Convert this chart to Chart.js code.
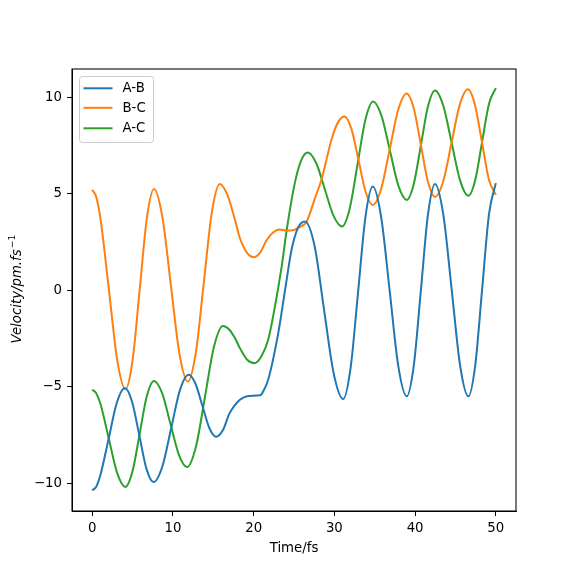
<!DOCTYPE html>
<html lang="en">
<head>
  <meta charset="UTF-8">
  <title>Velocity vs Time</title>
  <script src="https://cdn.jsdelivr.net/npm/chart.js"></script>
  <style>
    body {
      margin: 0;
      background: #ffffff;
    }
    canvas {
      display: block;
    }
  </style>
</head>
<body>
  <canvas id="velChart" width="573" height="574"></canvas>

  <script>
    // values (time in fs, velocity in pm/fs)
    const abTime = [0, 0.5, 1.01, 2.03, 3.04, 4.05, 4.94, 5.83, 6.71, 7.6, 8.69, 9.78, 10.86, 11.95, 12.8, 13.65, 14.5, 15.35, 16.2, 17.0, 18.3, 19.5, 20.8, 21.3, 21.8, 23.05, 23.9, 24.7, 25.5, 26.35, 27.55, 28.73, 29.91, 31.1, 32.01, 32.93, 33.84, 34.75, 35.8, 36.86, 37.91, 38.96, 39.84, 40.72, 41.59, 42.47, 43.5, 44.54, 45.57, 46.6, 47.45, 48.3, 49.15, 50];
    const abVel  = [-10.38, -10.19, -9.6, -7.72, -5.85, -5.07, -5.78, -7.51, -9.24, -9.95, -9.14, -7.17, -5.19, -4.38, -4.85, -5.99, -7.13, -7.6, -7.25, -6.4, -5.68, -5.48, -5.45, -5.15, -4.64, -2.22, 0.03, 2.1, 3.25, 3.57, 2.3, -1.03, -4.3, -5.64, -4.03, -0.13, 3.77, 5.38, 3.79, -0.06, -3.91, -5.5, -3.89, 0.01, 3.91, 5.52, 3.91, 0.01, -3.89, -5.5, -3.89, 0.03, 3.94, 5.56];

    const bcTime = [0, 0.5, 1.03, 2.07, 3.1, 4.13, 5.01, 5.89, 6.77, 7.65, 8.7, 9.75, 10.8, 11.85, 12.84, 13.83, 14.81, 15.8, 16.8, 17.68, 18.3, 19.0, 19.5, 20.05, 20.8, 21.6, 22.4, 23.2, 24.1, 24.9, 25.8, 26.57, 27.6, 28.4, 29.7, 30.5, 31.25, 32.13, 33.0, 33.88, 34.75, 35.8, 36.86, 37.91, 38.96, 39.84, 40.72, 41.59, 42.47, 43.49, 44.51, 45.53, 46.55, 47.41, 48.28, 49.14, 50];
    const bcVel  = [5.21, 4.84, 3.7, 0.04, -3.62, -5.13, -3.61, 0.06, 3.73, 5.25, 3.79, 0.26, -3.27, -4.73, -3.23, 0.4, 4.02, 5.52, 4.9, 3.66, 2.7, 2.05, 1.8, 1.72, 1.95, 2.6, 3.0, 3.15, 3.1, 3.12, 3.3, 3.57, 4.78, 5.73, 7.9, 8.75, 9.02, 8.35, 6.73, 5.1, 4.43, 5.27, 7.32, 9.37, 10.21, 9.43, 7.53, 5.63, 4.85, 5.66, 7.64, 9.62, 10.43, 9.63, 7.69, 5.75, 4.95];

    const acTime = [0, 0.5, 1.03, 2.05, 3.08, 4.1, 4.99, 5.88, 6.76, 7.65, 8.68, 9.7, 10.73, 11.75, 12.86, 13.98, 15.09, 16.2, 17.0, 17.68, 18.3, 19.2, 20.15, 21.0, 21.8, 22.64, 23.47, 24.1, 25.1, 25.9, 26.7, 27.76, 28.83, 29.89, 30.95, 31.91, 32.88, 33.84, 34.8, 35.84, 36.88, 37.92, 38.96, 39.84, 40.72, 41.59, 42.47, 43.5, 44.54, 45.57, 46.6, 47.45, 48.3, 49.15, 50];
    const acVel  = [-5.16, -5.34, -5.9, -7.68, -9.46, -10.2, -9.4, -7.45, -5.5, -4.7, -5.35, -6.94, -8.52, -9.17, -8.1, -5.51, -2.92, -1.85, -2.05, -2.48, -3.0, -3.6, -3.78, -3.4, -2.57, -0.84, 1.23, 3.14, 5.56, 6.75, 7.15, 6.59, 5.23, 3.87, 3.31, 4.26, 6.56, 8.85, 9.8, 9.05, 7.25, 5.44, 4.69, 5.52, 7.53, 9.53, 10.36, 9.56, 7.63, 5.7, 4.9, 5.72, 7.7, 9.67, 10.49];

    const seriesLabels = ['A-B', 'B-C', 'A-C'];
    const seriesColors = ['#1f77b4', '#ff7f0e', '#2ca02c'];
    const xTicks = [0, 10, 20, 30, 40, 50];
    const yTicks = [-10, -5, 0, 5, 10];

    const FONT = 'DejaVu Sans';
    const FS = 13.3;

    function toPoints(xs, ys) {
      return xs.map((x, i) => ({ x: x, y: ys[i] }));
    }

    // matplotlib-like frame, legend and y label drawn over the plot
    const frameAndLegend = {
      id: 'frameAndLegend',
      afterDatasetsDraw(chart) {
        const { ctx, chartArea: a } = chart;
        ctx.save();
        ctx.strokeStyle = '#000';
        ctx.lineWidth = 1.07;
        ctx.strokeRect(a.left, a.top, a.right - a.left, a.bottom - a.top);

        // legend box
        const bx = 79.5, by = 76.5, bw = 74, bh = 66, r = 3;
        ctx.beginPath();
        ctx.moveTo(bx + r, by);
        ctx.arcTo(bx + bw, by, bx + bw, by + bh, r);
        ctx.arcTo(bx + bw, by + bh, bx, by + bh, r);
        ctx.arcTo(bx, by + bh, bx, by, r);
        ctx.arcTo(bx, by, bx + bw, by, r);
        ctx.closePath();
        ctx.fillStyle = 'rgba(255,255,255,0.8)';
        ctx.fill();
        ctx.strokeStyle = '#cccccc';
        ctx.lineWidth = 1;
        ctx.stroke();

        const rows = [88.3, 107.8, 128.3];
        ctx.font = FS + 'px "' + FONT + '"';
        ctx.textBaseline = 'middle';
        ctx.textAlign = 'left';
        chart.data.datasets.forEach((ds, i) => {
          ctx.strokeStyle = ds.borderColor;
          ctx.lineWidth = 2;
          ctx.beginPath();
          ctx.moveTo(83.5, rows[i]);
          ctx.lineTo(112.5, rows[i]);
          ctx.stroke();
          ctx.fillStyle = '#000';
          ctx.fillText(ds.label, 122.5, rows[i] + 0.5);
        });

        // y label with superscript, rotated
        const main = 'Velocity/pm.fs';
        const sup = '\u22121';
        const mainFont = 'italic ' + FS + 'px "' + FONT + '"';
        const supFont = (FS * 0.7).toFixed(1) + 'px "' + FONT + '"';
        ctx.font = mainFont;
        const w1 = ctx.measureText(main).width;
        ctx.font = supFont;
        const w2 = ctx.measureText(sup).width;
        const total = w1 + 1 + w2;
        ctx.translate(21, 289);
        ctx.rotate(-Math.PI / 2);
        ctx.textBaseline = 'alphabetic';
        ctx.fillStyle = '#000';
        ctx.font = mainFont;
        ctx.fillText(main, -total / 2, 0);
        ctx.font = supFont;
        ctx.fillText(sup, -total / 2 + w1 + 1, -6);
        ctx.restore();
      }
    };

    const ctx = document.getElementById('velChart').getContext('2d');

    new Chart(ctx, {
      type: 'line',
      data: {
        datasets: [
          { label: seriesLabels[0], data: toPoints(abTime, abVel) },
          { label: seriesLabels[1], data: toPoints(bcTime, bcVel) },
          { label: seriesLabels[2], data: toPoints(acTime, acVel) }
        ].map((ds, i) => Object.assign(ds, {
          borderColor: seriesColors[i],
          backgroundColor: seriesColors[i],
          borderWidth: 2,
          pointRadius: 0,
          fill: false,
          cubicInterpolationMode: 'monotone'
        }))
      },
      options: {
        responsive: false,
        animation: false,
        layout: {
          padding: { left: 0, top: 69, right: 57, bottom: 0 }
        },
        plugins: {
          legend: { display: false },
          tooltip: { enabled: false }
        },
        scales: {
          x: {
            type: 'linear',
            min: -2.5,
            max: 52.5,
            afterBuildTicks: (scale) => { scale.ticks = xTicks.map(v => ({ value: v })); },
            afterFit: (scale) => { scale.height = 63; },
            grid: {
              drawOnChartArea: false,
              color: '#000',
              tickLength: 5,
              lineWidth: 1
            },
            border: { display: true, color: '#000', width: 1 },
            ticks: {
              color: '#000',
              padding: 5,
              maxRotation: 0,
              font: { family: FONT, size: FS },
              callback: (v) => String(v)
            },
            title: {
              display: true,
              text: 'Time/fs',
              color: '#000',
              padding: { top: 0, bottom: 17 },
              font: { family: FONT, size: FS }
            }
          },
          y: {
            type: 'linear',
            min: -11.45,
            max: 11.48,
            afterBuildTicks: (scale) => { scale.ticks = yTicks.map(v => ({ value: v })); },
            afterFit: (scale) => { scale.width = 72; },
            grid: {
              drawOnChartArea: false,
              color: '#000',
              tickLength: 5,
              lineWidth: 1
            },
            border: { display: true, color: '#000', width: 1 },
            ticks: {
              color: '#000',
              padding: 5,
              font: { family: FONT, size: FS },
              callback: (v) => String(v).replace('-', '\u2212')
            },
            title: { display: false }
          }
        }
      },
      plugins: [frameAndLegend]
    });
  </script>
</body>
</html>
